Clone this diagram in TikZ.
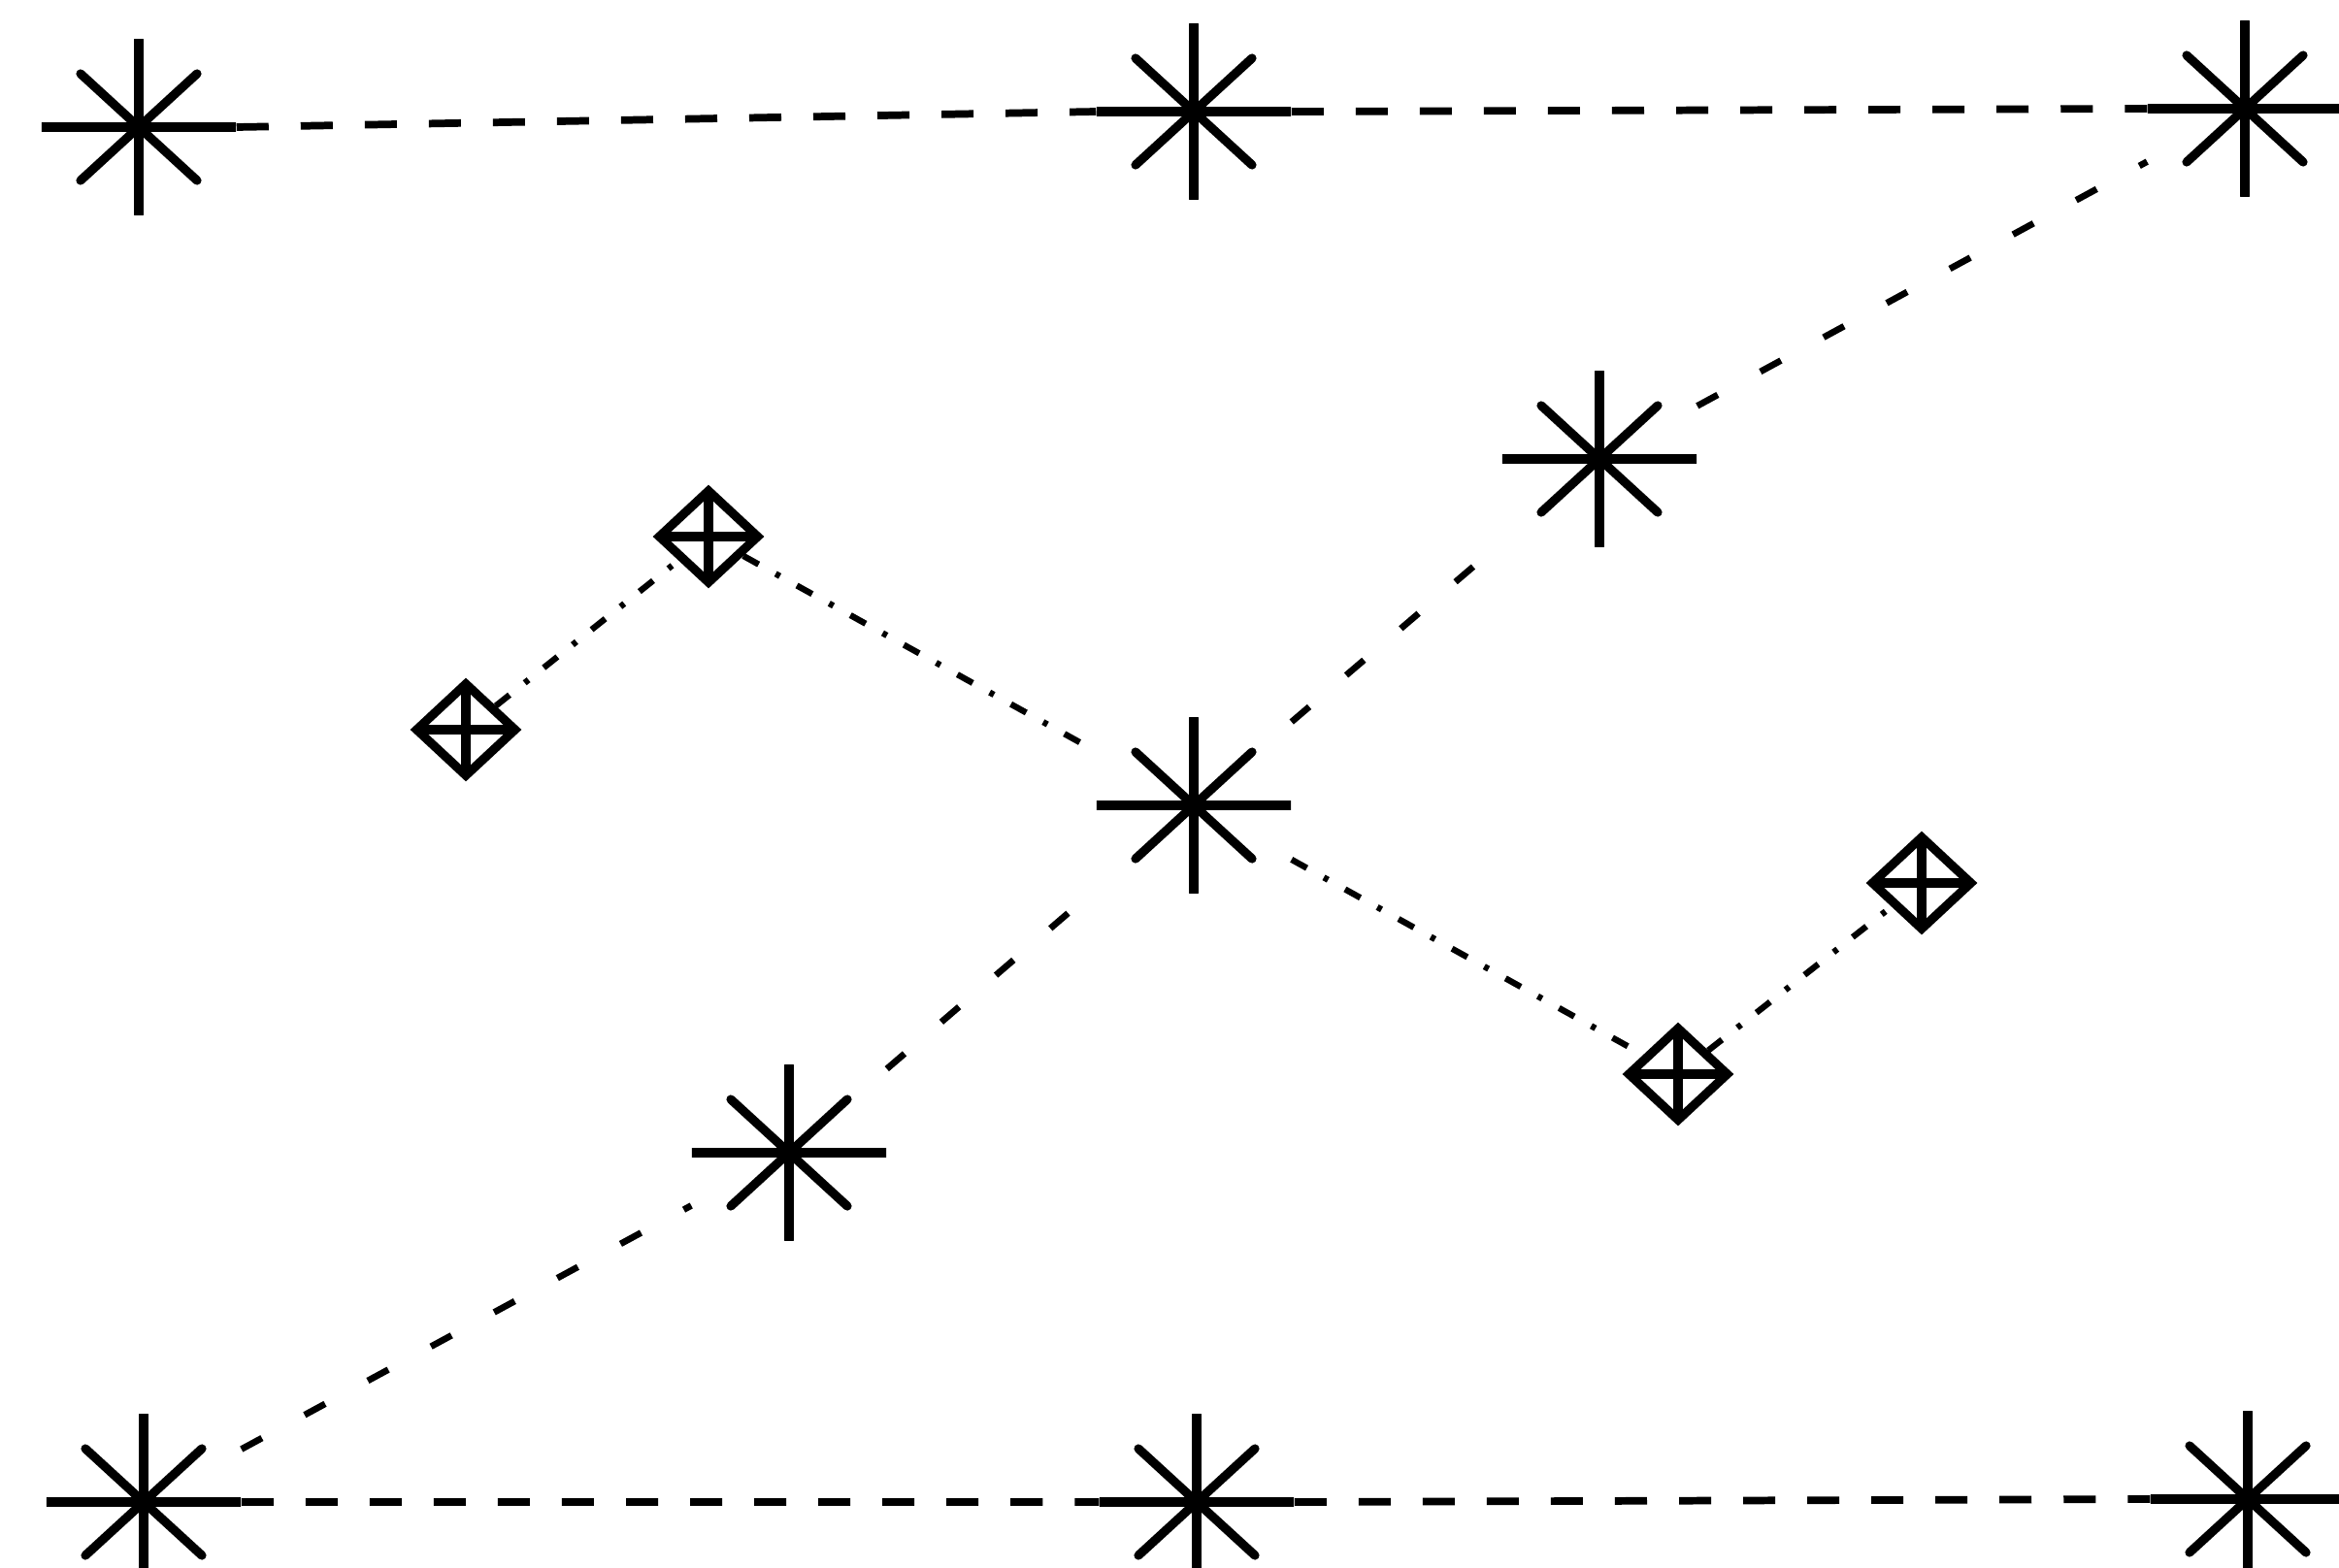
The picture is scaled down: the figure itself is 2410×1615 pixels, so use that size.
\documentclass[tikz,border=0pt]{standalone}
\usepackage{xcolor}
\usepackage{tikz}
\usetikzlibrary{shapes.geometric}

\begin{document}
\begin{tikzpicture}[x=0.01cm,y=-0.01cm,
  astnode/.style={rectangle,inner sep=0pt,minimum width=2.0cm,minimum height=1.8cm,
    path picture={
      \draw[line width=3pt,line cap=round] (path picture bounding box.west) -- (path picture bounding box.east);
      \draw[line width=3pt,line cap=round] (path picture bounding box.north) -- (path picture bounding box.south);
      \draw[line width=2.6pt,line cap=round] (path picture bounding box.center) ++(-0.6cm,-0.55cm) -- ++(1.2cm,1.1cm);
      \draw[line width=2.6pt,line cap=round] (path picture bounding box.center) ++(-0.6cm,0.55cm) -- ++(1.2cm,-1.1cm);
    }},
  dmdnode/.style={diamond,draw,line width=2.6pt,inner sep=0pt,minimum width=1.05cm,minimum height=0.98cm,
    path picture={
      \draw[line width=2.6pt] (path picture bounding box.west) -- (path picture bounding box.east);
      \draw[line width=2.6pt] (path picture bounding box.north) -- (path picture bounding box.south);
    }},
  rowline/.style={line width=2.2pt,dash pattern=on 0.33cm off 0.33cm},
  diagline/.style={line width=1.9pt,dash pattern=on 0.24cm off 0.5cm},
  dmdline/.style={line width=1.8pt,dash pattern=on 0.18cm off 0.2cm on 0.05cm off 0.2cm}]
  \useasboundingbox (0,0) rectangle (2410,1615);
  \node[astnode] (tl) at (143,131) {};
  \node[astnode] (tm) at (1230,115) {};
  \node[astnode] (tr) at (2313,112) {};
  \node[astnode] (a1) at (1648,473) {};
  \node[astnode] (c) at (1230,830) {};
  \node[astnode] (a2) at (813,1188) {};
  \node[astnode] (bl) at (148,1548) {};
  \node[astnode] (bm) at (1233,1548) {};
  \node[astnode] (br) at (2316,1545) {};
  \node[dmdnode] (d1) at (730,553) {};
  \node[dmdnode] (d2) at (480,752) {};
  \node[dmdnode] (d3) at (1980,910) {};
  \node[dmdnode] (d4) at (1729,1107) {};
  \draw[rowline] (tl.east) -- (tm.west) (tm.east) -- (tr.west);
  \draw[rowline] (bl.east) -- (bm.west) (bm.east) -- (br.west);
  \draw[diagline] (bl) -- (a2);
  \draw[diagline] (a2) -- (c);
  \draw[diagline] (c) -- (a1);
  \draw[diagline] (a1) -- (tr);
  \draw[dmdline] (d2) -- (d1);
  \draw[dmdline] (d1) -- (c);
  \draw[dmdline] (c) -- (d4);
  \draw[dmdline] (d4) -- (d3);
\end{tikzpicture}
\end{document}
